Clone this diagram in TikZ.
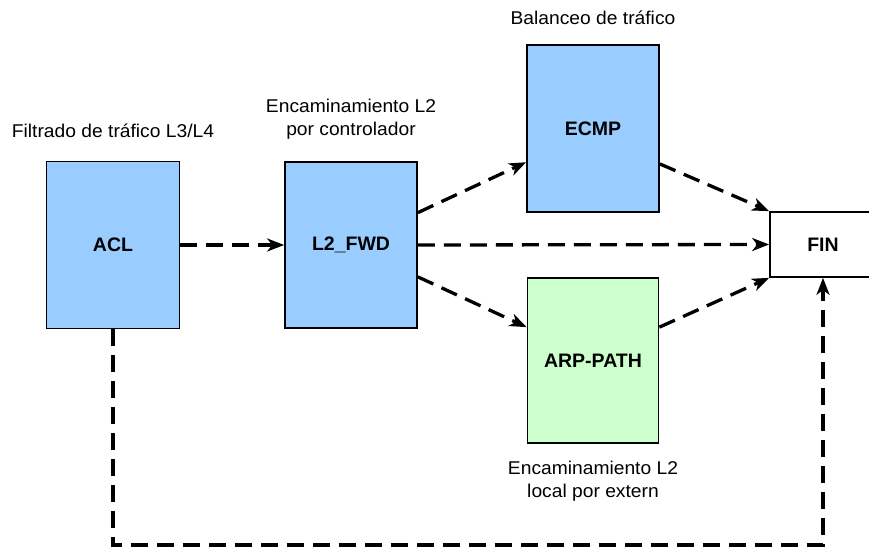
\documentclass[tikz,border=0pt]{standalone}
\usepackage{fontspec}
\setmainfont{Liberation Sans}
\newfontfamily\captionfont[FakeStretch=1.04]{Liberation Sans}
\usetikzlibrary{arrows.meta,calc}
\definecolor{blockblue}{HTML}{99CCFF}
\definecolor{blockgreen}{HTML}{CCFFCC}
\tikzset{
  block/.style={draw=black, line width=1.7pt, minimum width=#1, inner sep=0pt,
    font=\fontsize{19.5}{21}\selectfont\bfseries},
  note/.style={align=center, inner sep=0pt, font=\captionfont\fontsize{18.5}{22.5}\selectfont},
  flow/.style={line width=3.3pt, dash pattern=on 17pt off 9pt,
    -{Stealth[length=17pt,width=13pt,inset=5pt]}},
}
\begin{document}
\begin{tikzpicture}[x=1pt,y=-1pt]
  \useasboundingbox (0,0) rectangle (869,548);

  % processing stages
  \node[block=133pt, minimum height=167pt, fill=blockblue] (acl) at (113,245) {ACL};
  \node[block=132pt, minimum height=166pt, fill=blockblue] (fwd) at (351,245) {L2\_FWD};
  \node[block=132pt, minimum height=167pt, fill=blockblue] (ecmp) at (593,128.5) {ECMP};
  \node[block=131pt, minimum height=165pt, fill=blockgreen] (arp) at (593,360.5) {ARP-PATH};
  \node[block=106pt, minimum height=65pt, fill=white] (fin) at (823,244.5) {FIN};

  % descriptions
  \node[note] (tacl) at (113,131) {Filtrado de tráfico L3/L4};
  \node[note] (tfwd) at (351,119) {Encaminamiento L2\\por controlador};
  \node[note] (tecmp) at (593,18) {Balanceo de tráfico};
  \node[note] (tarp) at (593,481) {Encaminamiento L2\\local por extern};

  % connectors
  \draw[flow] (acl.east) -- (fwd.west);
  \draw[flow] ($(fwd.north east)!0.307!(fwd.south east)$) -- ($(ecmp.north west)!0.70!(ecmp.south west)$);
  \draw[flow] (fwd.east) -- (fin.west);
  \draw[flow] ($(fwd.north east)!0.69!(fwd.south east)$) -- ($(arp.north west)!0.30!(arp.south west)$);
  \draw[flow] ($(ecmp.north east)!0.71!(ecmp.south east)$) -- (fin.north west);
  \draw[flow] ($(arp.north east)!0.30!(arp.south east)$) -- (fin.south west);
  \coordinate (low) at (113,545);
  \draw[flow] (acl.south) -- (low) -| (fin.south);
\end{tikzpicture}
\end{document}
